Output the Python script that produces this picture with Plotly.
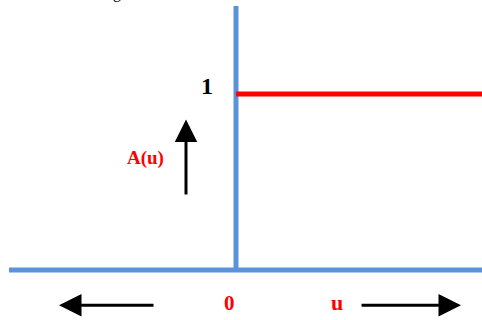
import plotly.graph_objects as go

# step function A(u): 0 for u < 0, 1 for u >= 0
axis_u = [-2.27, 2.46]
axis_a = [0, 0]
vert_u = [0, 0]
vert_a = [0, 1.5]
step_u = [0, 2.46]
step_a = [1, 1]

blue = "#5a93db"
red = "#ff0000"

fig = go.Figure()

fig.add_trace(
    go.Scatter(x=axis_u, y=axis_a, mode="lines", line=dict(color=blue, width=5))
)
fig.add_trace(
    go.Scatter(x=vert_u, y=vert_a, mode="lines", line=dict(color=blue, width=5))
)
fig.add_trace(
    go.Scatter(x=step_u, y=step_a, mode="lines", line=dict(color=red, width=5))
)

serif = "Liberation Serif"


def arrow(x0, y0, x1, y1):
    # arrow pointing from (x0, y0) to (x1, y1)
    fig.add_annotation(
        x=x1, y=y1, ax=x0, ay=y0,
        xref="x", yref="y", axref="x", ayref="y",
        text="", showarrow=True,
        arrowhead=2, arrowsize=1.5, arrowwidth=3, arrowcolor="black",
    )


arrow(-0.5, 0.42, -0.5, 0.855)
arrow(-0.81, -0.2, -1.77, -0.2)
arrow(1.24, -0.2, 2.25, -0.2)

fig.add_annotation(x=-0.29, y=1.045, text="<b>1</b>", showarrow=False,
                   font=dict(family=serif, size=24, color="black"))
fig.add_annotation(x=-0.91, y=0.636, text="<b>A(u)</b>", showarrow=False,
                   font=dict(family=serif, size=19, color=red))
fig.add_annotation(x=-0.065, y=-0.185, text="<b>0</b>", showarrow=False,
                   font=dict(family=serif, size=21, color=red))
fig.add_annotation(x=1.005, y=-0.185, text="<b>u</b>", showarrow=False,
                   font=dict(family=serif, size=22, color=red))
# fragment of a caption cut off by the top edge
fig.add_annotation(x=-1.19, y=1, yref="paper", yanchor="bottom", yshift=-4,
                   text="g", showarrow=False,
                   font=dict(family=serif, size=16, color="black"))

fig.update_layout(
    width=482,
    height=320,
    margin=dict(l=0, r=0, t=0, b=0),
    showlegend=False,
    plot_bgcolor="white",
    paper_bgcolor="white",
    xaxis=dict(range=[-2.36, 2.46], visible=False),
    yaxis=dict(range=[-0.284, 1.534], visible=False),
)

fig.write_html(
    "out.html",
    config={"displayModeBar": False},
    post_script="document.body.style.margin = '0';",
)
